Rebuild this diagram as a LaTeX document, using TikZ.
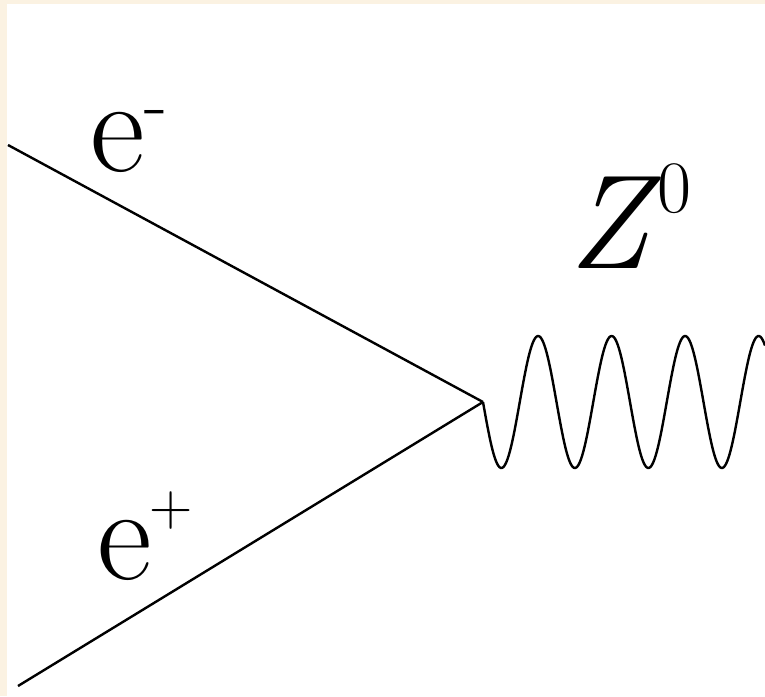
\documentclass[tikz,border=0pt]{standalone}
\usepackage{fontspec}
\definecolor{paper}{RGB}{251,242,226}
\newcommand{\supidx}[3]{\raisebox{#1pt}{\fontsize{#2}{#2}\selectfont #3}}
\begin{document}
\begin{tikzpicture}[
    x=1pt, y=-1pt,
    particle/.style={anchor=base west, inner sep=0pt, font=\rmfamily\fontsize{134}{140}\selectfont},
    fermion/.style={line width=2.4pt},
    boson/.style={line width=2.4pt, smooth}
]

% Background
\useasboundingbox (0,0) rectangle (765,696);
\fill[paper] (0,0) rectangle (765,696);
\fill[white] (7,4) rectangle (765,696);

% Vertex and free ends
\coordinate (v) at (483,402);
\coordinate (em) at (8,145);
\coordinate (ep) at (18,686);

% Labels
\node[particle] (lem) at (90,171) {e\supidx{43}{76}{-}};
\node[particle] (lep) at (97,579) {e\kern-2pt\supidx{54}{60}{+}};
\node[particle] (lz) at (568,268) {\textit{Z}\kern-3pt\supidx{56}{74}{0}};

% Fermion lines
\draw[fermion] (em) -- (v);
\draw[fermion] (ep) -- (v);

% Z boson
\draw[boson, shift={(v)}] plot[domain=0:282, samples=240] (\x, {66*sin(4.898*\x)});

\end{tikzpicture}
\end{document}
